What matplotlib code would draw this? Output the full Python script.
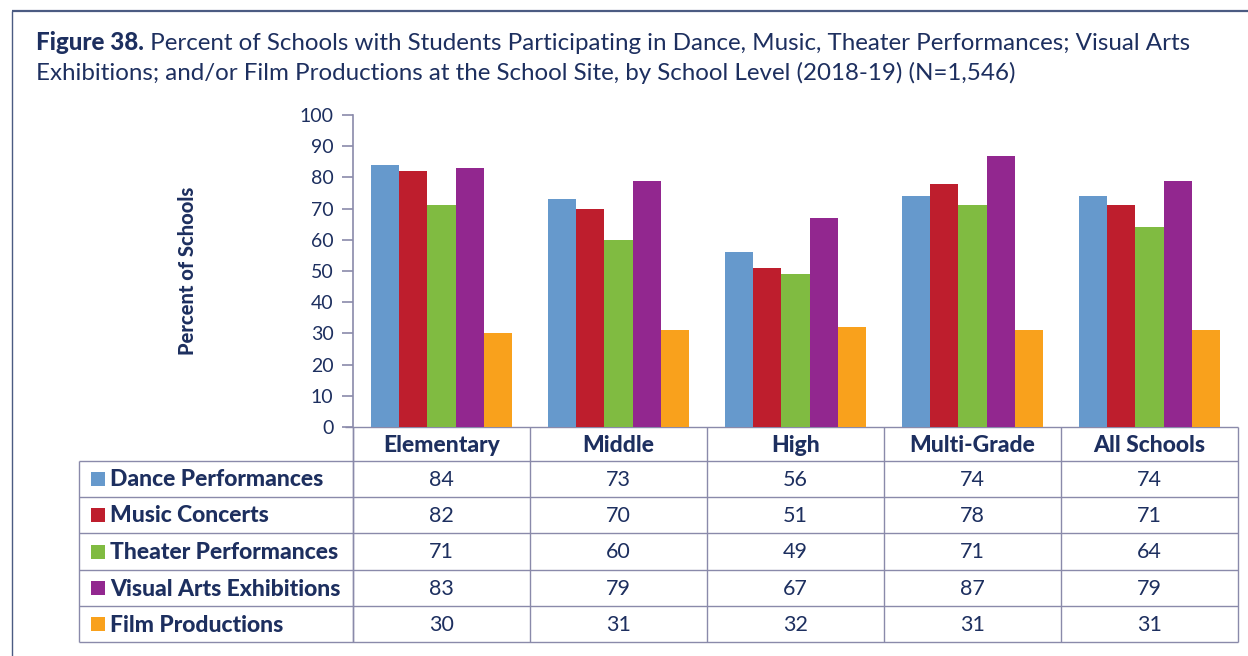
import matplotlib.pyplot as plt
import numpy as np
from matplotlib.transforms import blended_transform_factory

levels = ["Elementary", "Middle", "High", "Multi-Grade", "All Schools"]
series = ["Dance Performances", "Music Concerts", "Theater Performances",
          "Visual Arts Exhibitions", "Film Productions"]
dance = [84, 73, 56, 74, 74]
music = [82, 70, 51, 78, 71]
theater = [71, 60, 49, 71, 64]
visual = [83, 79, 67, 87, 79]
film = [30, 31, 32, 31, 31]
yticks = list(range(0, 101, 10))

colors = ["#6699cc", "#be1e2d", "#80bb41", "#92278f", "#f9a11c"]
navy = "#1d2f5f"
gridc = "#8a8aaa"

plt.rcParams["font.family"] = ["Lato", "DejaVu Sans"]

W, H = 1248, 656
fig = plt.figure(figsize=(W / 100, H / 100), dpi=100)

# bar axes placed by pixel box
x0, x1, ytop, ybot = 353, 1238, 115, 427
ax = fig.add_axes([x0 / W, 1 - ybot / H, (x1 - x0) / W, (ybot - ytop) / H])

# overlay in pixel coords for frame, title and table
ov = fig.add_axes([0, 0, 1, 1], zorder=-1)
ov.set_xlim(0, W)
ov.set_ylim(H, 0)
ov.axis("off")

values = [dance, music, theater, visual, film]
x = np.arange(len(levels))
bw = 0.16
for i, (vals, c) in enumerate(zip(values, colors)):
    ax.bar(x + (i - 2) * bw, vals, width=bw, color=c, linewidth=0)

ax.set_xlim(-0.5, len(levels) - 0.5)
ax.set_ylim(0, 100)
ax.set_yticks(yticks)
ax.set_xticks([])
for s in ["top", "right", "bottom"]:
    ax.spines[s].set_visible(False)
ax.spines["left"].set_color(gridc)
ax.spines["left"].set_linewidth(1.2)
ax.tick_params(axis="y", colors=gridc, length=8, width=1.2, labelcolor=navy,
               labelsize=14, pad=6)
ax.set_ylabel("Percent of Schools", fontsize=14.5, fontweight="black", color=navy,
              labelpad=0)
ax.yaxis.set_label_coords((197 - x0) / (x1 - x0), 0.5)
ax.patch.set_alpha(0)

# frame lines
ov.plot([12, W], [11, 11], color="#4b5b82", lw=1.6, solid_capstyle="butt")
ov.plot([12, 12], [11, H], color="#4b5b82", lw=1.0, solid_capstyle="butt")

# title
t1 = ov.text(36, 43, "Figure 38.", fontsize=17.4, fontweight="black", color=navy,
             va="center", ha="left")
ov.annotate(" Percent of Schools with Students Participating in Dance, Music, "
            "Theater Performances; Visual Arts",
            xy=(1, 0), xycoords=t1, va="bottom", ha="left",
            fontsize=17.4, color=navy)
ov.text(36, 73, "Exhibitions; and/or Film Productions at the School Site, by "
        "School Level (2018-19) (N=1,546)",
        fontsize=17.4, color=navy, va="center", ha="left")

# table
tr = blended_transform_factory(ax.transData, ov.transData)
rows = [427, 461, 497, 533, 570, 606, 642]
lkw = dict(color=gridc, lw=1.0, solid_capstyle="butt", clip_on=False)
left = 79
ov.plot([345, x1], [rows[0], rows[0]], **lkw)
for r in rows[1:]:
    ov.plot([left, x1], [r, r], **lkw)
ov.plot([left, left], [rows[1], rows[-1]], **lkw)
ov.plot([x0, x0], [rows[0], rows[-1]], **lkw)
for b in np.arange(len(levels) + 1) - 0.5:
    ov.plot([b, b], [rows[0], rows[-1]], transform=tr, **lkw)

for j, lev in enumerate(levels):
    ov.text(j, (rows[0] + rows[1]) / 2 + 1, lev, transform=tr, ha="center",
            va="center", fontsize=16.5, fontweight="black", color=navy)

for i, (name, vals, c) in enumerate(zip(series, values, colors)):
    yc = (rows[i + 1] + rows[i + 2]) / 2
    ov.add_patch(plt.Rectangle((91, yc - 7), 14, 14, color=c, lw=0))
    ov.text(110, yc + 1, name, ha="left", va="center", fontsize=16.5,
            fontweight="black", color=navy)
    for j, v in enumerate(vals):
        ov.text(j, yc + 1, str(v), transform=tr, ha="center", va="center",
                fontsize=15.5, color=navy)

fig.savefig("out.png", dpi=100)
